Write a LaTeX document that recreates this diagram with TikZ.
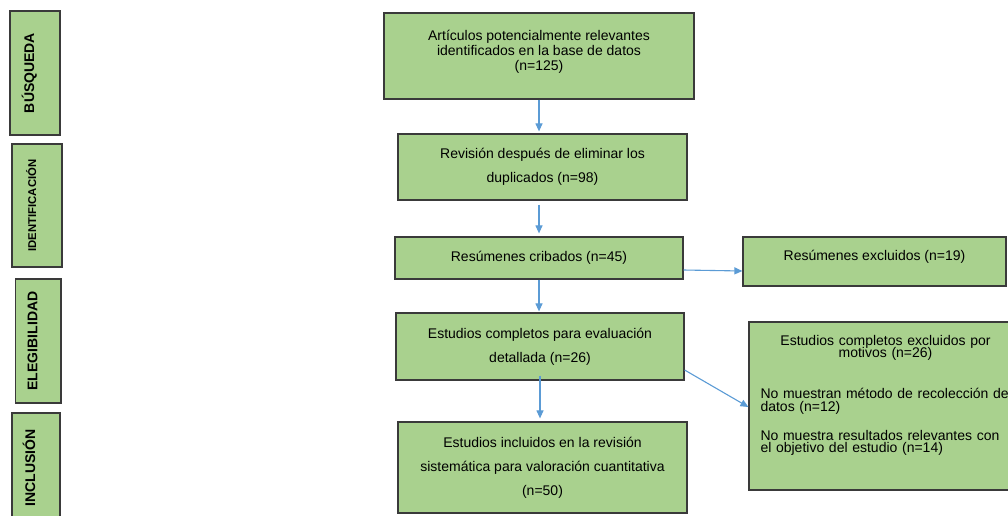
\documentclass[tikz,border=0pt]{standalone}
\usepackage{fontspec}
\setmainfont{Liberation Sans}
\usepackage{xcolor}
\usetikzlibrary{arrows.meta, positioning}
\definecolor{boxgreen}{HTML}{A9D18E}
\definecolor{boxline}{HTML}{3A3A3A}
\definecolor{linkblue}{HTML}{5B9BD5}
\newcommand\padbelow[1]{\rule[-#1]{0pt}{0pt}}
\tikzset{
  box/.style={draw=boxline, fill=boxgreen, line width=1.2pt, inner sep=0pt,
    align=center, font=\fontsize{14}{24}\selectfont},
  stage/.style={box, rotate=90, font=\bfseries\fontsize{14}{16}\selectfont,
    text height=10pt, text depth=12pt},
  link/.style={draw=linkblue, line width=1.1pt, -{Triangle[length=8pt,width=7pt]}},
}

\begin{document}
\begin{tikzpicture}[x=1pt, y=-1pt]
  \useasboundingbox (0,0) rectangle (1008,515);

  % stage labels on the left
  \foreach \nm/\cx/\cy/\len/\thk/\txt in {
    srch/35/73/124/50/BÚSQUEDA,
    ident/37/205.5/123/50/{\fontsize{11.3}{12}\selectfont IDENTIFICACIÓN},
    elig/38.3/341/124/45.3/ELEGIBILIDAD,
    incl/36/468/110/48/INCLUSIÓN}
    \node[stage, minimum width=\len, minimum height=\thk] (\nm) at (\cx,\cy) {\txt};

  % main flow
  \node[box, minimum width=310, minimum height=86, font=\fontsize{14}{15}\selectfont]
    (found) at (539,56)
    {Artículos potencialmente relevantes\\identificados en la base de datos\\(n=125)\padbelow{12pt}};
  \node[box, minimum width=289, minimum height=66] (dedup) at (542.5,167)
    {Revisión después de eliminar los\\duplicados (n=98)};
  \node[box, minimum width=288, minimum height=42] (screen) at (539,258)
    {Resúmenes cribados (n=45)};
  \node[box, minimum width=288, minimum height=67] (full) at (540,346.5)
    {Estudios completos para evaluación\\detallada (n=26)};
  \node[box, minimum width=289, minimum height=91] (incl5) at (542.5,467.5)
    {Estudios incluidos en la revisión\\sistemática para valoración cuantitativa\\(n=50)};

  % exclusions
  \node[box, minimum width=263, minimum height=49] (absx) at (874.5,261.5)
    {Resúmenes excluidos (n=19)\padbelow{12pt}};
  \node[box, text width=250pt, align=left, inner xsep=11.5pt, minimum height=168,
    font={\fontsize{14}{12.5}\selectfont\lineskiplimit=-20pt}] (fullx) at (885.5,406)
    {{\centering Estudios completos excluidos por\\motivos (n=26)\par}\vspace{28.5pt}
     No muestran método de recolección de\\datos (n=12)\par\vspace{16.5pt}
     No muestra resultados relevantes con\\el objetivo del estudio (n=14)\padbelow{24pt}};

  \draw[link, shorten >=2pt] (found.south) -- (found.south |- dedup.north);
  \draw[link, shorten <=4pt, shorten >=3pt] (dedup.south -| screen.north) -- (screen.north);
  \draw[link, shorten >=1pt] (screen.south) -- (screen.south |- full.north);
  \draw[link, shorten <=-5pt, shorten >=3pt] (full.south) -- (full.south |- incl5.north);
  \draw[link] ([yshift=-12pt]screen.east) -- ([yshift=-9.5pt]absx.west);
  \draw[link] ([yshift=-23.5pt]full.east) -- ([yshift=-1pt]fullx.west);
\end{tikzpicture}
\end{document}
